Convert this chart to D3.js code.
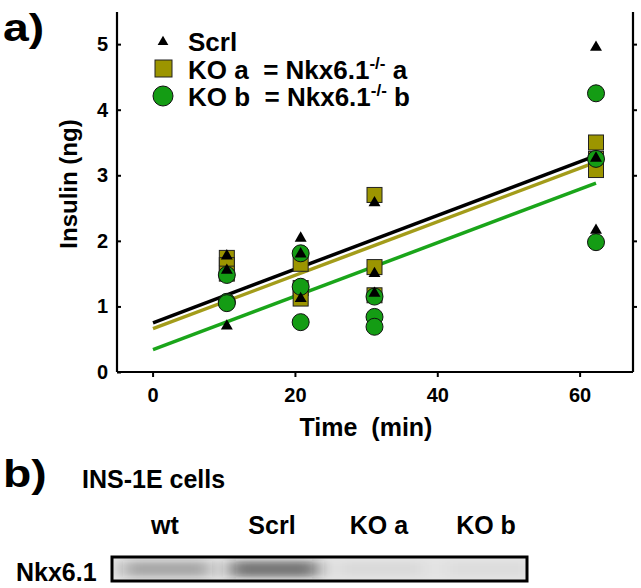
<!DOCTYPE html>
<html>
<head>
<meta charset="utf-8">
<script src="https://cdn.jsdelivr.net/npm/d3@7"></script>
<style>
body { margin: 0; background: #fff; }
text { font-family: "Liberation Sans", Arial, sans-serif; font-weight: bold; }
</style>
</head>
<body>
<div id="chart"></div>
<script>
// time points (min)
const times = [10, 20, 30, 60];
// insulin (ng), three replicates per time point
const scrl = [[1.77, 1.55, 0.70], [2.04, 1.80, 1.12], [2.58, 1.50, 1.20], [4.95, 3.26, 2.16]];
const koA = [[1.74, 1.63, 1.50], [1.65, 1.28, 1.12], [2.70, 1.60, 1.17], [3.50, 3.25, 3.08]];
const koB = [[1.48, 1.07, 1.05], [1.81, 1.30, 0.76], [1.15, 0.84, 0.69], [4.25, 3.25, 1.98]];
// regression line values at t = 0 and t = 60
const fitTimes = [0, 60];
const fitScrl = [0.75, 3.30];
const fitKoA = [0.66, 3.20];
const fitKoB = [0.34, 2.88];
const xTicks = [0, 20, 40, 60];
const yTicks = [0, 1, 2, 3, 4, 5];
const legendLabels = ["Scrl", "KO a  = Nkx6.1", "KO b  = Nkx6.1"];
// western blot
const lanes = ["wt", "Scrl", "KO a", "KO b"];
const bandLevel = [0.30, 0.55, 0.05, 0.04];

const w = 641, h = 588;
const svg = d3.select("#chart").append("svg").attr("width", w).attr("height", h);

const x = d3.scaleLinear().domain([-5, 67.5]).range([117, 633]);
const xp = d3.scaleLinear().domain([0, 60]).range([153, 596]);
const y = d3.scaleLinear().domain([0, 5.49]).range([372, 12]);

const olive = "#9c9500", green = "#149c14";

svg.append("text").attr("transform", "translate(3,41) scale(1.22,1)").attr("font-size", 38).text("a)");

// axes
const xAxis = d3.axisBottom(x).tickValues(xTicks).tickSize(5).tickPadding(11);
const gx = svg.append("g").attr("transform", "translate(0,372)").call(xAxis);
const yAxis = d3.axisLeft(y).tickValues(yTicks).tickSize(-4).tickPadding(9).tickFormat(d3.format("d"));
const gy = svg.append("g").attr("transform", "translate(117,0)").call(yAxis);
const yAxisR = d3.axisRight(y).tickValues(yTicks.slice(1)).tickSize(4).tickFormat("");
const gr = svg.append("g").attr("transform", "translate(633,0)").call(yAxisR);
[gx, gy, gr].forEach(g => {
  g.select(".domain").attr("stroke", "#000").attr("stroke-width", 2.2);
  g.selectAll(".tick line").attr("stroke", "#000").attr("stroke-width", 2);
  g.selectAll("text").attr("font-size", 20).attr("fill", "#000")
    .attr("font-family", "Liberation Sans, Arial, sans-serif").attr("font-weight", "bold");
});
gy.select(".domain").attr("d", "M0,372V12");
gr.select(".domain").attr("d", "M0,372V12");
gx.select(".domain").attr("d", "M117,0H633");

svg.append("text").attr("transform", "translate(77,184) rotate(-90)")
  .attr("text-anchor", "middle").attr("font-size", 24).text("Insulin (ng)");
svg.append("text").attr("x", 366).attr("y", 436).attr("text-anchor", "middle")
  .attr("font-size", 25).attr("xml:space", "preserve").text("Time  (min)");

// regression lines
const line = d3.line().x(d => xp(d[0])).y(d => y(d[1]));
[[fitScrl, "#000"], [fitKoA, "#a39c1a"], [fitKoB, "#1aa51a"]].forEach(([f, c]) => {
  svg.append("path").datum(fitTimes.map((t, i) => [t, f[i]]))
    .attr("d", line).attr("stroke", c).attr("stroke-width", 3.5).attr("fill", "none");
});

const flat = arr => arr.flatMap((vals, i) => vals.map(v => [times[i], v]));
const tri = d3.symbol().type(d3.symbolTriangle).size(62);

// squares
svg.append("g").selectAll("rect").data(flat(koA)).join("rect")
  .attr("x", d => xp(d[0]) - 7.5).attr("y", d => y(d[1]) - 7.5)
  .attr("width", 15).attr("height", 15)
  .attr("fill", olive).attr("stroke", "#222").attr("stroke-width", 1);
// circles
svg.append("g").selectAll("circle").data(flat(koB)).join("circle")
  .attr("cx", d => xp(d[0])).attr("cy", d => y(d[1])).attr("r", 8.5)
  .attr("fill", green).attr("stroke", "#111").attr("stroke-width", 1);
// triangles
svg.append("g").selectAll("path").data(flat(scrl)).join("path")
  .attr("transform", d => `translate(${xp(d[0])},${y(d[1])})`)
  .attr("d", tri).attr("fill", "#000");

// legend
const lg = svg.append("g");
lg.append("path").attr("transform", "translate(163,42)").attr("d", d3.symbol().type(d3.symbolTriangle).size(50)).attr("fill", "#000");
lg.append("rect").attr("x", 155).attr("y", 60).attr("width", 17).attr("height", 17)
  .attr("fill", olive).attr("stroke", "#222");
lg.append("circle").attr("cx", 163).attr("cy", 96).attr("r", 10).attr("fill", green).attr("stroke", "#111");
legendLabels.forEach((l, i) => {
  const t = lg.append("text").attr("x", 188).attr("y", 51 + i * 27.5).attr("font-size", 26)
    .attr("xml:space", "preserve");
  t.append("tspan").text(l);
  if (i > 0) {
    t.append("tspan").attr("dy", -10).attr("font-size", 17).text("-/-");
    t.append("tspan").attr("dy", 10).text(" " + (i === 1 ? "a" : "b"));
  }
});

// part b
svg.append("text").attr("transform", "translate(3,487) scale(1.22,1)").attr("font-size", 38).text("b)");
svg.append("text").attr("x", 82).attr("y", 488).attr("font-size", 25).text("INS-1E cells");
svg.append("text").attr("x", 16).attr("y", 581).attr("font-size", 25).text("Nkx6.1");

const lx = d3.scalePoint().domain(lanes).range([165, 486]);
svg.append("g").selectAll("text").data(lanes).join("text")
  .attr("x", d => lx(d)).attr("y", 534)
  .attr("text-anchor", "middle").attr("font-size", 25).text(d => d);

const defs = svg.append("defs");
defs.append("filter").attr("id", "blur").attr("x", "-30%").attr("y", "-100%")
  .attr("width", "160%").attr("height", "300%")
  .append("feGaussianBlur").attr("stdDeviation", "9 3");
defs.append("clipPath").attr("id", "gel").append("rect")
  .attr("x", 112).attr("y", 557).attr("width", 415).attr("height", 24);

const gel = svg.append("g").attr("clip-path", "url(#gel)");
gel.append("rect").attr("x", 112).attr("y", 557).attr("width", 415).attr("height", 24).attr("fill", "#e6e6e6");
gel.append("g").attr("filter", "url(#blur)").selectAll("rect").data(lanes).join("rect")
  .attr("x", d => lx(d) - 42).attr("y", 561)
  .attr("width", 88).attr("height", 16)
  .attr("fill", "#222").attr("opacity", (d, i) => bandLevel[i]);
svg.append("rect").attr("x", 112).attr("y", 557).attr("width", 415).attr("height", 24)
  .attr("fill", "none").attr("stroke", "#000").attr("stroke-width", 3);
</script>
</body>
</html>
